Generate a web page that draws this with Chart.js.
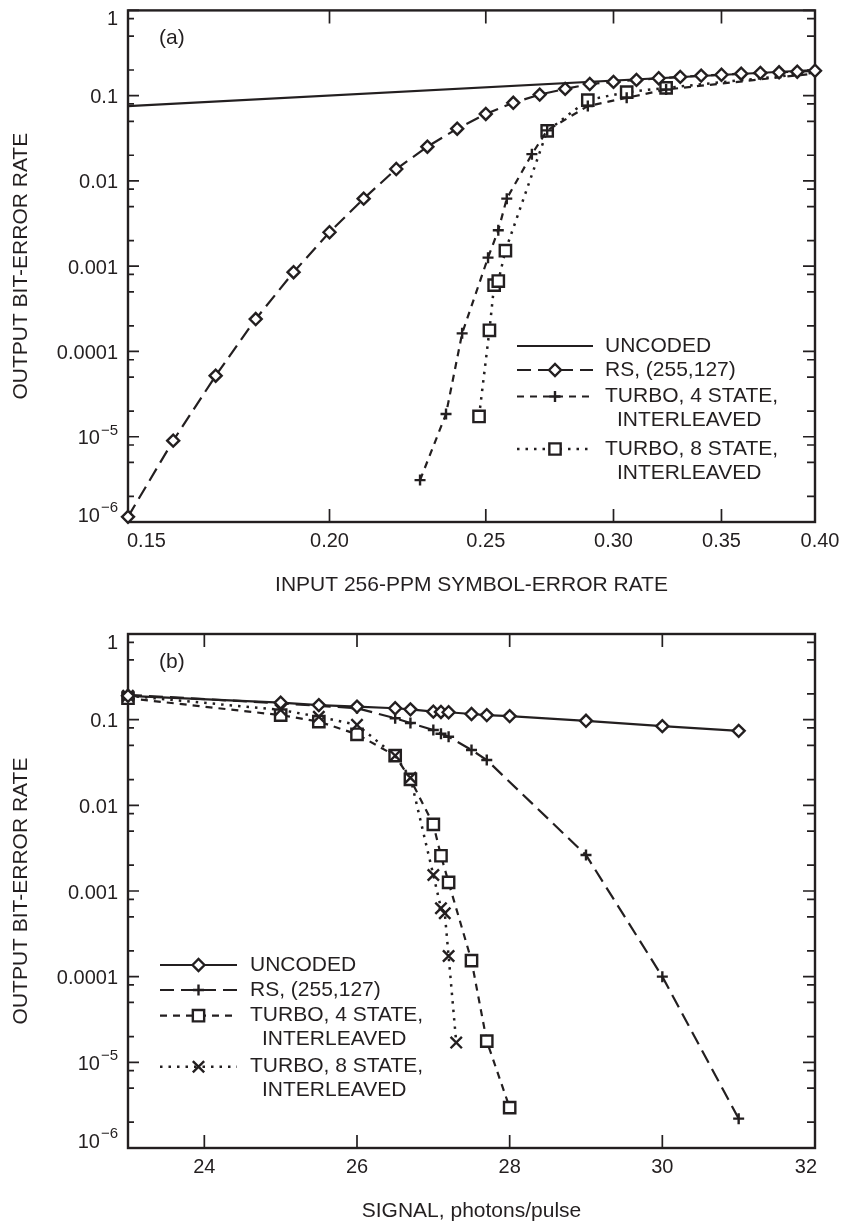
<!DOCTYPE html>
<html>
<head>
<meta charset="utf-8">
<title>Bit-error rate vs symbol-error rate and signal</title>
<script src="https://cdn.jsdelivr.net/npm/chart.js@4/dist/chart.umd.min.js"></script>
<style>
    body { margin: 0; background: #fff; }
    .panel { position: absolute; left: 0; width: 843px; }
    #wrap-a { top: 0; height: 610px; }
    #wrap-b { top: 610px; height: 613px; }
    canvas { display: block; }
</style>
</head>
<body>
<div class="panel" id="wrap-a"><canvas id="chart-a" width="843" height="610"></canvas></div>
<div class="panel" id="wrap-b"><canvas id="chart-b" width="843" height="613"></canvas></div>
<script>
    const INK = "#231f20";
    const FONT = '"Liberation Sans", Arial, Helvetica, sans-serif';

    // shared y axis (log, 1e-6 .. 1)
    const berDecades = [1, 0.1, 0.01, 0.001, 0.0001, 1e-5, 1e-6];
    const berDecadeLabels = ["1", "0.1", "0.01", "0.001", "0.0001", "10^\u22125", "10^\u22126"];
    const berMinorSteps = [0.2, 0.5, 0.8];

    // panel (a): input 256-PPM symbol-error rate (log x)
    const serTicks = [0.15, 0.20, 0.25, 0.30, 0.35, 0.40];
    const serTickLabels = ["0.15", "0.20", "0.25", "0.30", "0.35", "0.40"];

    const serUncoded = [0.15, 0.40];
    const berUncodedA = [0.0753, 0.200];

    const serRs = [0.15, 0.16, 0.17, 0.18, 0.19, 0.20, 0.21, 0.22, 0.23, 0.24, 0.25, 0.26, 0.27,
        0.28, 0.29, 0.30, 0.31, 0.32, 0.33, 0.34, 0.35, 0.36, 0.37, 0.38, 0.39, 0.40];
    const berRsA = [1.15e-6, 9.0e-6, 5.2e-5, 2.4e-4, 8.5e-4, 2.5e-3, 6.2e-3, 0.0138, 0.0252, 0.041, 0.061,
        0.0825, 0.103, 0.120, 0.137, 0.145, 0.153, 0.160, 0.166, 0.172, 0.176, 0.181, 0.185, 0.188, 0.191, 0.196];

    const serTurbo4 = [0.2276, 0.2362, 0.2417, 0.2508, 0.2545, 0.2576, 0.2670, 0.2729, 0.2892, 0.3057, 0.3234, 0.40];
    const berTurbo4A = [3.1e-6, 1.85e-5, 1.63e-4, 1.26e-3, 2.64e-3, 6.2e-3, 0.0206, 0.0392, 0.0755, 0.0944, 0.118, 0.182];

    const serTurbo8 = [0.2476, 0.2513, 0.2530, 0.2545, 0.2571, 0.2729, 0.2892, 0.3057, 0.3234, 0.40];
    const berTurbo8A = [1.73e-5, 1.77e-4, 6.0e-4, 6.7e-4, 1.52e-3, 0.0386, 0.0887, 0.110, 0.1234, 0.186];

    // panel (b): signal, photons/pulse (linear x)
    const signalTicks = [24, 26, 28, 30, 32];
    const signalTickLabels = ["24", "26", "28", "30", "32"];

    const signalUncoded = [23, 25, 25.5, 26, 26.5, 26.7, 27, 27.1, 27.2, 27.5, 27.7, 28, 29, 30, 31];
    const berUncodedB = [0.19, 0.158, 0.148, 0.142, 0.136, 0.132, 0.124, 0.123, 0.122, 0.1165, 0.113, 0.110, 0.097, 0.084, 0.074];

    const signalRs = [23, 25, 25.5, 26, 26.5, 26.7, 27, 27.1, 27.2, 27.5, 27.7, 29, 30, 31];
    const berRsB = [0.195, 0.155, 0.145, 0.136, 0.104, 0.0914, 0.0757, 0.0686, 0.0633, 0.0443, 0.0338, 2.63e-3, 1.0e-4, 2.2e-6];

    const signalTurbo4 = [23, 25, 25.5, 26, 26.5, 26.7, 27, 27.1, 27.2, 27.5, 27.7, 28];
    const berTurbo4B = [0.178, 0.113, 0.095, 0.0675, 0.038, 0.0201, 6.0e-3, 2.58e-3, 1.26e-3, 1.54e-4, 1.77e-5, 2.96e-6];

    const signalTurbo8 = [23, 25, 25.5, 26, 26.5, 26.7, 27, 27.1, 27.15, 27.2, 27.3];
    const berTurbo8B = [0.19, 0.13, 0.108, 0.087, 0.038, 0.021, 1.54e-3, 6.3e-4, 5.5e-4, 1.74e-4, 1.7e-5];

    const legendLabels = [
        ["UNCODED"],
        ["RS, (255,127)"],
        ["TURBO, 4 STATE,", "INTERLEAVED"],
        ["TURBO, 8 STATE,", "INTERLEAVED"]
    ];

    const RS_DASH = [14, 7];
    const TURBO4_DASH = [7, 6];
    const TURBO8_DOT = [2.5, 6];

    function pairs(xs, ys) {
        return xs.map((x, i) => ({ x, y: ys[i] }));
    }

    function series(xs, ys, style) {
        return Object.assign({
            data: pairs(xs, ys),
            borderColor: INK,
            borderWidth: 2.2,
            borderDash: [],
            pointBorderColor: INK,
            pointBackgroundColor: "#fff",
            pointBorderWidth: 2.4,
            pointStyle: "circle",
            pointRadius: 0,
            tension: 0,
            fill: false,
            clip: false
        }, style);
    }

    function hideLast(ys, radius) {
        return ys.map((_, i) => i === ys.length - 1 ? 0 : radius);
    }

    function drawMarker(ctx, style, r, x, y) {
        if (!style || !r) {
            return;
        }
        ctx.beginPath();
        if (style === "rectRot") {
            ctx.moveTo(x - r, y); ctx.lineTo(x, y - r); ctx.lineTo(x + r, y); ctx.lineTo(x, y + r);
            ctx.closePath(); ctx.fill();
        } else if (style === "rect") {
            const h = r * Math.SQRT1_2;
            ctx.rect(x - h, y - h, 2 * h, 2 * h); ctx.fill();
        } else if (style === "cross") {
            ctx.moveTo(x - r, y); ctx.lineTo(x + r, y); ctx.moveTo(x, y - r); ctx.lineTo(x, y + r);
        } else if (style === "crossRot") {
            const h = r * Math.SQRT1_2;
            ctx.moveTo(x - h, y - h); ctx.lineTo(x + h, y + h); ctx.moveTo(x + h, y - h); ctx.lineTo(x - h, y + h);
        }
        ctx.stroke();
    }

    function drawYLabel(ctx, label, xRight, y) {
        const parts = label.split("^");
        ctx.textAlign = "right";
        ctx.textBaseline = "middle";
        if (parts.length === 1) {
            ctx.font = `20px ${FONT}`;
            ctx.fillText(label, xRight, y);
            return;
        }
        ctx.font = `15px ${FONT}`;
        const expWidth = ctx.measureText(parts[1]).width;
        ctx.fillText(parts[1], xRight, y - 8);
        ctx.font = `20px ${FONT}`;
        ctx.fillText(parts[0], xRight - expWidth - 1, y);
    }

    function paperFrame(cfg) {
        return {
            id: "paperFrame",
            beforeDatasetsDraw(chart) {
                const { ctx, chartArea: a, scales: { x, y } } = chart;
                ctx.save();
                ctx.strokeStyle = INK;
                ctx.lineWidth = 1.7;
                ctx.beginPath();
                cfg.xTicks.forEach(v => {
                    const px = x.getPixelForValue(v);
                    ctx.moveTo(px, a.bottom); ctx.lineTo(px, a.bottom - 13);
                    ctx.moveTo(px, a.top); ctx.lineTo(px, a.top + 13);
                });
                berDecades.forEach(d => {
                    const py = y.getPixelForValue(d);
                    ctx.moveTo(a.left, py); ctx.lineTo(a.left + 11, py);
                    ctx.moveTo(a.right, py); ctx.lineTo(a.right - 12, py);
                    berMinorSteps.forEach(m => {
                        const v = d * m;
                        if (v < 1e-6) {
                            return;
                        }
                        const pm = y.getPixelForValue(v);
                        ctx.moveTo(a.left, pm); ctx.lineTo(a.left + 6, pm);
                        ctx.moveTo(a.right, pm); ctx.lineTo(a.right - 8, pm);
                    });
                });
                ctx.stroke();
                ctx.lineWidth = 2.4;
                ctx.strokeRect(a.left, a.top, a.right - a.left, a.bottom - a.top);
                ctx.restore();
            },
            afterDraw(chart) {
                const { ctx, chartArea: a, scales: { x, y } } = chart;
                ctx.save();
                ctx.fillStyle = INK;
                ctx.strokeStyle = INK;

                // x tick labels
                ctx.font = `20px ${FONT}`;
                ctx.textBaseline = "middle";
                cfg.xTicks.forEach((v, i) => {
                    let px = x.getPixelForValue(v);
                    ctx.textAlign = "center";
                    if (i === 0 && cfg.firstLeft) {
                        ctx.textAlign = "left";
                        px = a.left - 1;
                    } else if (i === cfg.xTicks.length - 1 && cfg.lastRight) {
                        ctx.textAlign = "right";
                        px = a.right + 2;
                    } else if (i === cfg.xTicks.length - 1) {
                        px += 5;
                    }
                    ctx.fillText(cfg.xTickLabels[i], px, a.bottom + 19);
                });

                // y tick labels, kept inside the frame height
                berDecades.forEach((d, i) => {
                    const py = y.getPixelForValue(d);
                    const ly = Math.min(Math.max(py + 2, a.top + 9), a.bottom - 6);
                    drawYLabel(ctx, berDecadeLabels[i], a.left - 10, ly);
                });

                // axis titles
                ctx.font = `21px ${FONT}`;
                ctx.textAlign = "center";
                ctx.fillText(cfg.xTitle, (a.left + a.right) / 2, a.bottom + 63);
                ctx.save();
                ctx.translate(21, (a.top + a.bottom) / 2);
                ctx.rotate(-Math.PI / 2);
                ctx.fillText("OUTPUT BIT-ERROR RATE", 0, 0);
                ctx.restore();

                // panel tag
                ctx.font = `21px ${FONT}`;
                ctx.textAlign = "left";
                ctx.fillText(cfg.tag, a.left + 31, a.top + 28);

                // legend
                const lg = cfg.legend;
                cfg.legendItems.forEach((item, i) => {
                    const rowY = lg.rows[i];
                    ctx.save();
                    ctx.lineWidth = item.borderWidth;
                    ctx.setLineDash(item.borderDash);
                    ctx.beginPath();
                    ctx.moveTo(lg.x0, rowY); ctx.lineTo(lg.x1, rowY);
                    ctx.stroke();
                    ctx.setLineDash([]);
                    ctx.lineWidth = 2.4;
                    ctx.fillStyle = "#fff";
                    drawMarker(ctx, item.pointStyle, item.legendRadius, (lg.x0 + lg.x1) / 2, rowY);
                    ctx.restore();

                    ctx.font = `21px ${FONT}`;
                    ctx.textAlign = "left";
                    ctx.textBaseline = "middle";
                    legendLabels[i].forEach((line, k) => {
                        ctx.fillText(line, lg.textX + (k ? 12 : 0), rowY + k * 24);
                    });
                });
                ctx.restore();
            }
        };
    }

    function buildChart(canvasId, cfg) {
        return new Chart(document.getElementById(canvasId), {
            type: "line",
            data: { datasets: cfg.datasets },
            options: {
                responsive: false,
                animation: false,
                events: [],
                layout: { padding: cfg.padding },
                plugins: { legend: { display: false }, tooltip: { enabled: false } },
                scales: {
                    x: { type: cfg.xType, min: cfg.xMin, max: cfg.xMax, display: false },
                    y: { type: "logarithmic", min: 1e-6, max: 1, display: false }
                }
            },
            plugins: [paperFrame(cfg)]
        });
    }

    // ---- panel (a) ----
    const uncodedA = series(serUncoded, berUncodedA, { legendRadius: 0 });
    const rsA = series(serRs, berRsA, { borderDash: RS_DASH, pointStyle: "rectRot", pointRadius: 6, legendRadius: 6 });
    const turbo4A = series(serTurbo4, berTurbo4A, {
        borderDash: TURBO4_DASH, pointStyle: "cross", pointRadius: hideLast(berTurbo4A, 5.5), legendRadius: 5.5
    });
    const turbo8A = series(serTurbo8, berTurbo8A, {
        borderDash: TURBO8_DOT, borderWidth: 2.5, pointStyle: "rect", pointRadius: hideLast(berTurbo8A, 8), legendRadius: 8
    });

    buildChart("chart-a", {
        datasets: [rsA, turbo4A, turbo8A, uncodedA],
        legendItems: [uncodedA, rsA, turbo4A, turbo8A],
        legend: { x0: 517, x1: 593, textX: 605, rows: [346, 370, 396.5, 449] },
        padding: { left: 128, right: 28, top: 7, bottom: 88 },
        xType: "logarithmic", xMin: 0.15, xMax: 0.40,
        xTicks: serTicks, xTickLabels: serTickLabels,
        firstLeft: true, lastRight: false,
        xTitle: "INPUT 256-PPM SYMBOL-ERROR RATE",
        tag: "(a)"
    });

    // ---- panel (b) ----
    const uncodedB = series(signalUncoded, berUncodedB, { pointStyle: "rectRot", pointRadius: 6, legendRadius: 6 });
    const rsB = series(signalRs, berRsB, { borderDash: RS_DASH, pointStyle: "cross", pointRadius: 5.5, legendRadius: 5.5 });
    const turbo4B = series(signalTurbo4, berTurbo4B, { borderDash: TURBO4_DASH, pointStyle: "rect", pointRadius: 8, legendRadius: 8 });
    const turbo8B = series(signalTurbo8, berTurbo8B, {
        borderDash: TURBO8_DOT, borderWidth: 2.5, pointStyle: "crossRot", pointRadius: 8, legendRadius: 8
    });

    buildChart("chart-b", {
        datasets: [uncodedB, rsB, turbo8B, turbo4B],
        legendItems: [uncodedB, rsB, turbo4B, turbo8B],
        legend: { x0: 160, x1: 237, textX: 250, rows: [355, 380, 405.7, 456.7] },
        padding: { left: 128, right: 28, top: 24, bottom: 75 },
        xType: "linear", xMin: 23, xMax: 32,
        xTicks: signalTicks, xTickLabels: signalTickLabels,
        firstLeft: false, lastRight: true,
        xTitle: "SIGNAL, photons/pulse",
        tag: "(b)"
    });
</script>
</body>
</html>
